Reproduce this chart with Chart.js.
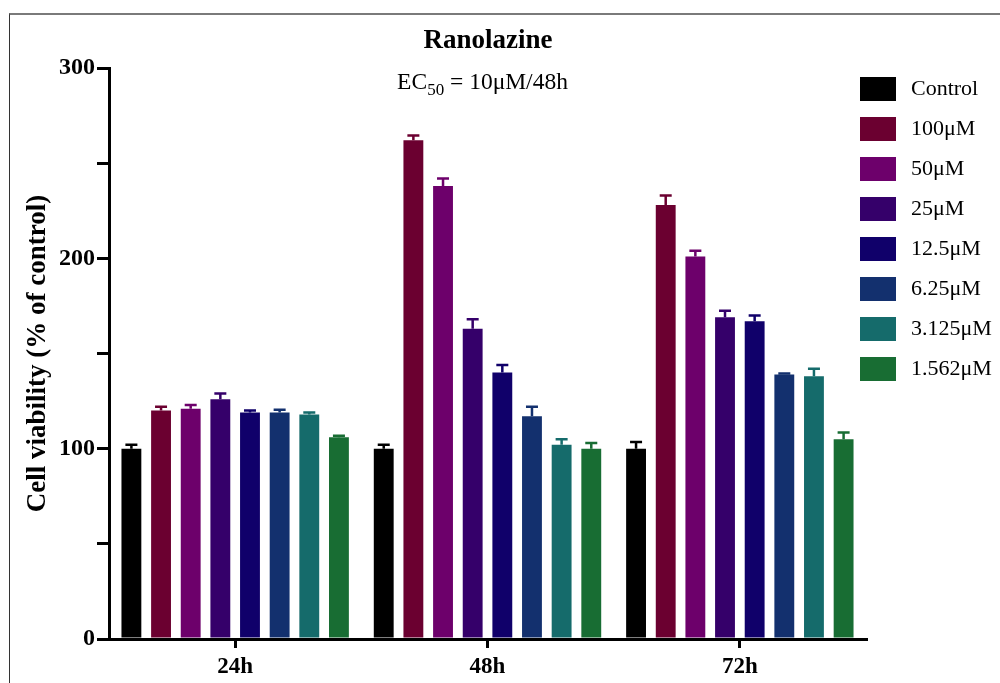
<!DOCTYPE html>
<html>
<head>
<meta charset="utf-8">
<script src="https://cdn.jsdelivr.net/npm/chart.js@4.4.1/dist/chart.umd.min.js"></script>
<style>
  html, body { margin: 0; padding: 0; background: #fff; }
  #wrap { position: relative; width: 1000px; height: 683px; overflow: hidden; font-family: "Liberation Serif", "Times New Roman", serif; color: #000; }
  #frame { position: absolute; left: 9px; top: 13px; width: 1000px; height: 700px; border-top: 2px solid #7a7a7a; border-left: 1px solid #333; }
  #chart { position: absolute; left: 0; top: 0; }
  .title { position: absolute; left: 0; top: 24px; width: 976px; text-align: center; font-weight: bold; font-size: 27px; }
  .ec50 { position: absolute; left: 0; top: 68px; width: 965px; text-align: center; font-size: 23.5px; }
  .ec50 sub { font-size: 17px; vertical-align: -6px; }
  .legend { position: absolute; left: 860px; top: 77px; }
  .legend .row { position: absolute; left: 0; height: 24px; white-space: nowrap; }
  .legend .box { position: absolute; left: 0; top: 0; width: 36px; height: 24px; }
  .legend .lbl { position: absolute; left: 51px; top: -1px; font-size: 22px; line-height: 24px; }
</style>
</head>
<body>
<div id="wrap">
  <div id="frame"></div>
  <canvas id="chart" width="1000" height="683"></canvas>
  <div class="title">Ranolazine</div>
  <div class="ec50">EC<sub>50</sub> = 10μM/48h</div>
  <div class="legend" id="legend"></div>
</div>
<script>
// time points
const times = ['24h', '48h', '72h'];

// treatment groups
const groups = ['Control', '100μM', '50μM', '25μM', '12.5μM', '6.25μM', '3.125μM', '1.562μM'];
const colors = ['#000000', '#6b0030', '#6d006b', '#35006a', '#10006a', '#13306e', '#156b6b', '#186d33'];

// mean cell viability (% of control), one array per group: [24h, 48h, 72h]
const control = [100, 100, 100];
const c100    = [120, 262, 228];
const c50     = [121, 238, 201];
const c25     = [126, 163, 169];
const c12_5   = [119, 140, 167];
const c6_25   = [119, 117, 139];
const c3_125  = [118, 102, 138];
const c1_562  = [106, 100, 105];

// upper error (SD)
const controlErr = [2, 2, 3.5];
const c100Err    = [2, 2.5, 5];
const c50Err     = [2, 4, 3];
const c25Err     = [3, 5, 3.5];
const c12_5Err   = [1, 4, 3];
const c6_25Err   = [1.5, 5, 0.5];
const c3_125Err  = [1, 3, 4];
const c1_562Err  = [0.8, 3, 3.5];

const values = [control, c100, c50, c25, c12_5, c6_25, c3_125, c1_562];
const errors = [controlErr, c100Err, c50Err, c25Err, c12_5Err, c6_25Err, c3_125Err, c1_562Err];

const yTicks = [0, 100, 200, 300];

const FONT = '"Liberation Serif", "Times New Roman", serif';

// legend (html, built from the same arrays)
document.getElementById('legend').innerHTML = groups.map((g, i) => `
  <div class="row" style="top:${i * 40}px">
    <div class="box" style="background:${colors[i]}"></div>
    <div class="lbl">${g}</div>
  </div>`).join('');

// upward error bars with a cap, drawn from the bar scale
const errorBars = {
  id: 'errorBars',
  afterDatasetsDraw(chart) {
    const ctx = chart.ctx;
    const y = chart.scales.y;
    chart.data.datasets.forEach((ds, i) => {
      const meta = chart.getDatasetMeta(i);
      meta.data.forEach((bar, j) => {
        const top = y.getPixelForValue(ds.data[j] + ds.errors[j]);
        ctx.save();
        ctx.strokeStyle = ds.backgroundColor;
        ctx.lineWidth = 2.5;
        ctx.beginPath();
        ctx.moveTo(bar.x, bar.y);
        ctx.lineTo(bar.x, top);
        ctx.moveTo(bar.x - 6, top);
        ctx.lineTo(bar.x + 6, top);
        ctx.stroke();
        ctx.restore();
      });
    });
  }
};

new Chart(document.getElementById('chart'), {
  type: 'bar',
  data: {
    labels: times,
    datasets: groups.map((g, i) => ({
      label: g,
      data: values[i],
      errors: errors[i],
      backgroundColor: colors[i],
      borderWidth: 0,
      categoryPercentage: 0.94,
      barPercentage: 0.67
    }))
  },
  options: {
    responsive: false,
    animation: false,
    layout: { padding: { left: 10, right: 134, top: 68, bottom: 0 } },
    plugins: { legend: { display: false }, tooltip: { enabled: false } },
    scales: {
      x: {
        grid: { offset: false, drawOnChartArea: false, tickLength: 9, lineWidth: 3, color: '#000' },
        border: { color: '#000', width: 3 },
        ticks: { color: '#000', padding: 5, font: { family: FONT, size: 23, weight: 'bold' } },
        afterFit(scale) { scale.height = 44; }
      },
      y: {
        min: 0,
        max: 300,
        afterBuildTicks(scale) {
          scale.ticks = [0, 50, 100, 150, 200, 250, 300].map(v => ({ value: v }));
        },
        ticks: {
          color: '#000',
          padding: 2,
          font: { family: FONT, size: 24, weight: 'bold' },
          callback: v => yTicks.includes(v) ? String(v) : ''
        },
        grid: { drawOnChartArea: false, tickLength: 12, lineWidth: 3, color: '#000' },
        border: { color: '#000', width: 3 },
        title: {
          display: true,
          text: 'Cell viability (% of control)',
          color: '#000',
          padding: { top: 12, bottom: 0 },
          font: { family: FONT, size: 27, weight: 'bold' }
        },
        afterFit(scale) { scale.width = 99; }
      }
    }
  },
  plugins: [errorBars]
});
</script>
</body>
</html>
